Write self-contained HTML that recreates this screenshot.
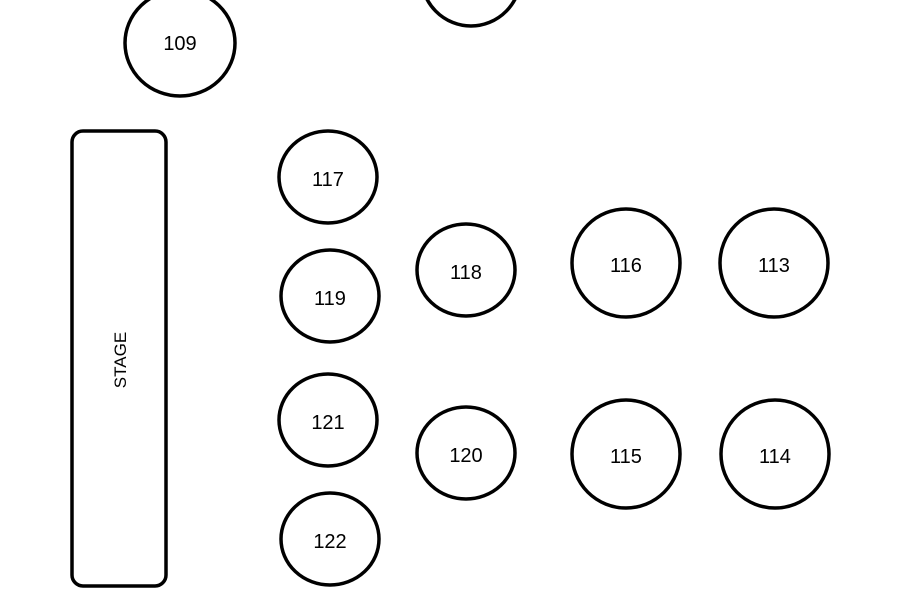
<!DOCTYPE html>
<html><head><style>body{margin:0;background:#fff}</style></head><body>
<svg width="899" height="600" viewBox="0 0 899 600" xmlns="http://www.w3.org/2000/svg" style="display:block">
<g fill="none" stroke="#000" stroke-width="3.5">
<ellipse cx="471" cy="-25" rx="50" ry="51"/>
<ellipse cx="180" cy="43" rx="55" ry="53"/>
<ellipse cx="328" cy="177" rx="49" ry="46"/>
<ellipse cx="330" cy="296" rx="49" ry="46"/>
<ellipse cx="328" cy="420" rx="49" ry="46"/>
<ellipse cx="330" cy="539" rx="49" ry="46"/>
<ellipse cx="466" cy="270" rx="49" ry="46"/>
<ellipse cx="466" cy="453" rx="49" ry="46"/>
<ellipse cx="626" cy="263" rx="54" ry="54"/>
<ellipse cx="774" cy="263" rx="54" ry="54"/>
<ellipse cx="626" cy="454" rx="54" ry="54"/>
<ellipse cx="775" cy="454" rx="54" ry="54"/>
<rect x="72" y="131" width="94" height="455" rx="11"/>
</g>
<g font-family="Liberation Sans, sans-serif" font-size="20" text-anchor="middle" fill="#000">
<text x="180" y="50">109</text>
<text x="328" y="186">117</text>
<text x="330" y="305">119</text>
<text x="328" y="429">121</text>
<text x="330" y="548">122</text>
<text x="466" y="279">118</text>
<text x="466" y="462">120</text>
<text x="626" y="272">116</text>
<text x="774" y="272">113</text>
<text x="626" y="463">115</text>
<text x="775" y="463">114</text>
<text x="0" y="0" font-size="17" transform="translate(126,360) rotate(-90)">STAGE</text>
</g>
</svg>
</body></html>
